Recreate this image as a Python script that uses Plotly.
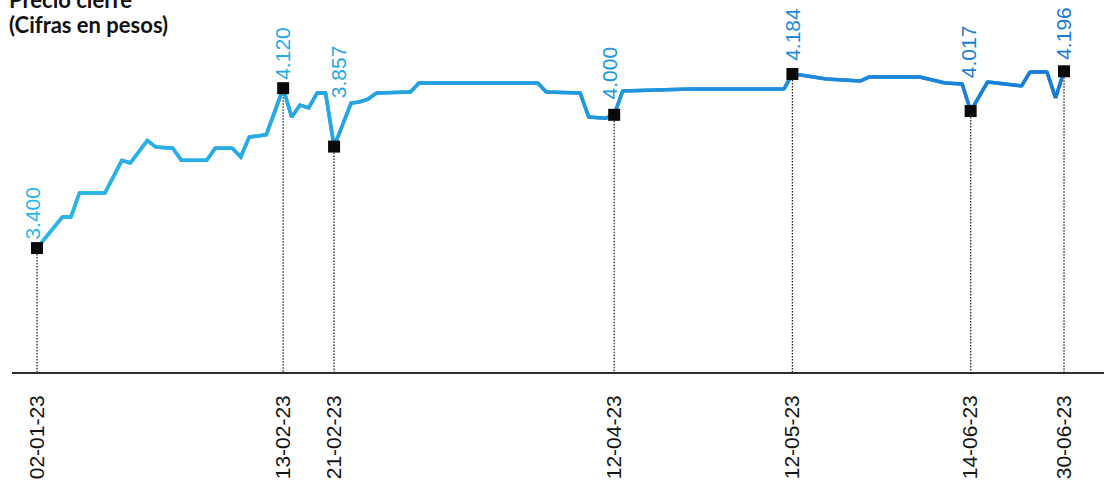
import pandas as pd
import plotly.graph_objects as go

# Daily closing price, vertices of the series (COP)
dates = [
    "2023-01-02", "2023-01-05", "2023-01-06", "2023-01-10", "2023-01-13",
    "2023-01-17", "2023-01-18", "2023-01-20", "2023-01-23", "2023-01-25",
    "2023-01-26", "2023-01-31", "2023-02-01", "2023-02-03", "2023-02-06",
    "2023-02-07", "2023-02-09", "2023-02-10", "2023-02-13", "2023-02-14",
    "2023-02-15", "2023-02-16", "2023-02-17", "2023-02-20", "2023-02-21",
    "2023-02-23", "2023-02-24", "2023-02-27", "2023-02-28", "2023-03-06",
    "2023-03-07", "2023-03-28", "2023-03-29", "2023-04-04", "2023-04-05",
    "2023-04-11", "2023-04-12", "2023-04-13", "2023-04-25", "2023-05-11",
    "2023-05-12", "2023-05-15", "2023-05-18", "2023-05-25", "2023-05-26",
    "2023-06-05", "2023-06-08", "2023-06-13", "2023-06-14", "2023-06-16",
    "2023-06-23", "2023-06-26", "2023-06-28", "2023-06-29", "2023-06-30",
]
prices = [
    3400, 3540, 3540, 3648, 3648,
    3795, 3783, 3885, 3855, 3850,
    3795, 3795, 3850, 3850, 3810,
    3900, 3910, 4010, 4120, 3990,
    4044, 4031, 4098, 4098, 3857,
    4053, 4058, 4071, 4098, 4103,
    4143, 4143, 4103, 4098, 3990,
    3985, 4000, 4107, 4116, 4116,
    4184, 4179, 4161, 4152, 4170,
    4170, 4143, 4139, 4017, 4148,
    4130, 4193, 4193, 4076, 4196,
]

# Highlighted closes
mark_dates = ["2023-01-02", "2023-02-13", "2023-02-21", "2023-04-12",
              "2023-05-12", "2023-06-14", "2023-06-30"]
mark_prices = [3400, 4120, 3857, 4000, 4184, 4017, 4196]
mark_text = ["3.400", "4.120", "3.857", "4.000", "4.184", "4.017", "4.196"]
tick_text = ["02-01-23", "13-02-23", "21-02-23", "12-04-23",
             "12-05-23", "14-06-23", "30-06-23"]

# Market holidays (no trading)
holidays = ["2023-01-09", "2023-03-20", "2023-04-06", "2023-04-07",
            "2023-05-01", "2023-05-22", "2023-06-12", "2023-06-19"]

# ---- styling ----
Y_LO, Y_HI = 2842, 4517
LINE_W = 3.5
C_START = (42, 184, 232)
C_END = (26, 122, 214)
LABEL_FONT = "Liberation Sans, Arial, sans-serif"
TITLE_FONT = "Lato, Noto Sans, sans-serif"
# (xshift, yshift) of each value label, in pixels
label_offsets = [(-4, 6), (0, 6), (4, 46), (-5, 13), (0, 11), (-2, 31), (0, 9)]

d_all = pd.to_datetime(dates)
t0, t1 = d_all[0], d_all[-1]


def tone(ts):
    f = (pd.Timestamp(ts) - t0) / (t1 - t0)
    f = min(max(f, 0.0), 1.0)
    r, g, b = (round(a + (c - a) * f) for a, c in zip(C_START, C_END))
    return f"rgb({r},{g},{b})"


fig = go.Figure()

# underlay so segment joins stay solid
fig.add_trace(go.Scatter(
    x=dates, y=prices, mode="lines",
    line=dict(color=tone(t0 + (t1 - t0) / 2), width=LINE_W),
    hoverinfo="skip", showlegend=False,
))

# colour-graded line, one segment per pair of vertices
for i in range(len(dates) - 1):
    mid = d_all[i] + (d_all[i + 1] - d_all[i]) / 2
    fig.add_trace(go.Scatter(
        x=dates[i:i + 2], y=prices[i:i + 2], mode="lines",
        line=dict(color=tone(mid), width=LINE_W),
        hoverinfo="skip", showlegend=False,
    ))

fig.add_trace(go.Scatter(
    x=mark_dates, y=mark_prices, mode="markers",
    marker=dict(symbol="square", size=12, color="#0a0a0a"),
    cliponaxis=False, showlegend=False,
    hovertemplate="%{x|%d-%m-%y}: %{y}<extra></extra>",
))

shapes = []
annotations = []
for md, mp, mt, (dx, dy) in zip(mark_dates, mark_prices, mark_text, label_offsets):
    shapes.append(dict(
        type="line", xref="x", yref="y", x0=md, x1=md, y0=mp, y1=Y_LO,
        line=dict(color="#222222", width=1.3, dash="1.5px,1.5px"),
        layer="below",
    ))
    annotations.append(dict(
        x=md, y=mp, xref="x", yref="y", text=mt, showarrow=False,
        textangle=-90, xanchor="center", yanchor="bottom",
        xshift=dx, yshift=dy,
        font=dict(family=LABEL_FONT, size=21, color=tone(md)),
    ))

# heading (first line runs off the top edge)
annotations.append(dict(
    xref="paper", yref="paper", x=0, y=1, xanchor="left", yanchor="middle",
    xshift=-5, yshift=1, text="<b>Precio cierre</b>", showarrow=False,
    font=dict(family=TITLE_FONT, size=22, color="#111111"),
))
annotations.append(dict(
    xref="paper", yref="paper", x=0, y=1, xanchor="left", yanchor="middle",
    xshift=-5, yshift=-24, text="<b>(Cifras en pesos)</b>", showarrow=False,
    font=dict(family=TITLE_FONT, size=22, color="#111111"),
))

fig.update_layout(
    width=1104, height=485,
    margin=dict(l=12, r=0, t=0, b=113),
    paper_bgcolor="white", plot_bgcolor="white",
    shapes=shapes, annotations=annotations,
    showlegend=False,
)
fig.update_xaxes(
    type="date",
    range=["2022-12-28 01:19", "2023-07-06 17:03"],
    rangebreaks=[dict(bounds=["sat", "mon"]), dict(values=holidays)],
    tickvals=mark_dates, ticktext=tick_text, tickangle=-90,
    tickfont=dict(family=LABEL_FONT, size=21, color="#151515"),
    ticks="", ticklabelstandoff=13,
    showgrid=False, zeroline=False,
    showline=True, linecolor="#2e2e2e", linewidth=1.6,
)
fig.update_yaxes(range=[Y_LO, Y_HI], visible=False, showgrid=False, zeroline=False)

fig.write_html("out.html")
